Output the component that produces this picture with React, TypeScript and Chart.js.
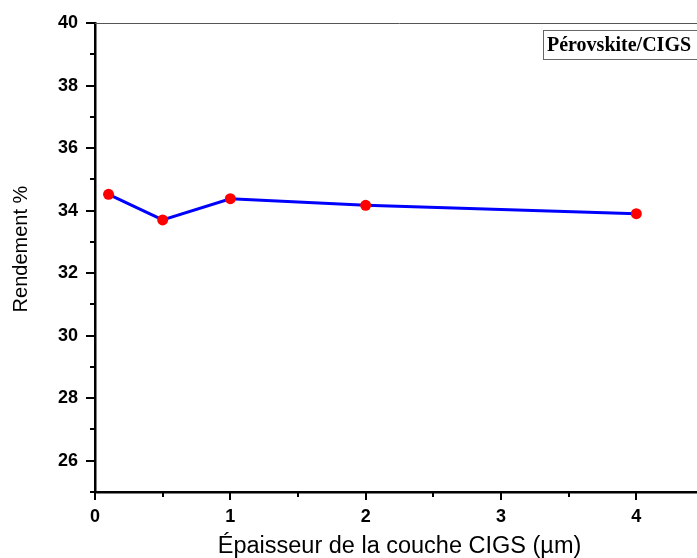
import React, { useEffect, useRef } from "react";
import { Chart, registerables } from "chart.js";

Chart.register(...registerables);

const thickness = [0.1, 0.5, 1, 2, 4];
const rendement = [34.52, 33.7, 34.38, 34.17, 33.9];
const xTickLabels = ["0", "1", "2", "3", "4"];
const yTickLabels = ["26", "28", "30", "32", "34", "36", "38", "40"];
const xTitle = "Épaisseur de la couche CIGS (µm)";
const yTitle = "Rendement %";
const legendText = "Pérovskite/CIGS";

const decorPlugin = {
  id: "decor",
  afterDraw(chart: any) {
    const ctx = chart.ctx;
    const ca = chart.chartArea;
    const xs = chart.scales.x;
    const ys = chart.scales.y;
    ctx.save();
    // top frame line
    ctx.strokeStyle = "#555";
    ctx.lineWidth = 1;
    ctx.beginPath();
    ctx.moveTo(ca.left, ca.top + 0.5);
    ctx.lineTo(ca.right, ca.top + 0.5);
    ctx.stroke();
    // ticks
    ctx.strokeStyle = "#000";
    ctx.lineWidth = 2;
    xs.ticks.forEach((t: any) => {
      const px = Math.round(xs.getPixelForValue(t.value));
      const major = Number.isInteger(t.value);
      ctx.beginPath();
      ctx.moveTo(px, ca.bottom);
      ctx.lineTo(px, ca.bottom + (major ? 8 : 5));
      ctx.stroke();
    });
    ys.ticks.forEach((t: any) => {
      const py = Math.round(ys.getPixelForValue(t.value));
      const major = t.value % 2 === 0;
      ctx.beginPath();
      ctx.moveTo(ca.left, py);
      ctx.lineTo(ca.left - (major ? 9 : 5), py);
      ctx.stroke();
    });
    // titles
    ctx.fillStyle = "#000";
    ctx.font = "23.5px 'Liberation Sans', Arial, sans-serif";
    ctx.textAlign = "center";
    ctx.textBaseline = "alphabetic";
    ctx.fillText(xTitle, (ca.left + ca.right) / 2, ca.bottom + 61);
    ctx.save();
    ctx.translate(27, ca.top + (ca.bottom - ca.top) * 0.482);
    ctx.rotate(-Math.PI / 2);
    ctx.font = "20px 'Liberation Sans', Arial, sans-serif";
    ctx.fillText(yTitle, 0, 0);
    ctx.restore();
    // legend box
    const bx = ca.right - 161;
    const by = ca.top + 7;
    ctx.fillStyle = "#fff";
    ctx.fillRect(bx, by, 160, 29);
    ctx.strokeStyle = "#666";
    ctx.lineWidth = 1;
    ctx.strokeRect(bx + 0.5, by + 0.5, 154, 29);
    ctx.fillStyle = "#000";
    ctx.font = "bold 20px 'Liberation Serif', 'Times New Roman', serif";
    ctx.textAlign = "left";
    ctx.fillText(legendText, bx + 4, by + 21);
    ctx.restore();
  },
};

export default function App() {
  const ref = useRef<HTMLCanvasElement>(null);
  useEffect(() => {
    if (!ref.current) return;
    const chart = new Chart(ref.current, {
      type: "scatter",
      data: {
        datasets: [
          {
            data: thickness.map((x, i) => ({ x, y: rendement[i] })),
            showLine: true,
            borderColor: "#0000FF",
            borderWidth: 3,
            pointRadius: 5.5,
            pointBackgroundColor: "#FF0000",
            pointBorderColor: "#FF0000",
            pointBorderWidth: 0,
          },
        ],
      },
      options: {
        responsive: false,
        animation: false,
        devicePixelRatio: 1,
        layout: { padding: { left: 0, top: 23, right: 16, bottom: 0 } },
        plugins: { legend: { display: false }, tooltip: { enabled: false } },
        scales: {
          x: {
            type: "linear",
            min: 0,
            max: 4.5,
            afterFit: (s: any) => {
              s.height = 66;
              s.paddingLeft = 0;
              s.paddingRight = 0;
            },
            grid: { display: false, drawTicks: false },
            border: { display: true, color: "#000", width: 2.5 },
            ticks: {
              stepSize: 0.5,
              padding: 14,
              color: "#000",
              font: { family: "'Liberation Sans', Arial, sans-serif", size: 18, weight: "bold" },
              callback: (v: any) => {
                const s = String(v);
                return xTickLabels.includes(s) ? s : "";
              },
            },
          },
          y: {
            type: "linear",
            min: 25,
            max: 40,
            afterFit: (s: any) => {
              s.width = 95;
              s.paddingTop = 0;
              s.paddingBottom = 0;
            },
            grid: { display: false, drawTicks: false },
            border: { display: true, color: "#000", width: 2.5 },
            ticks: {
              stepSize: 1,
              padding: 17,
              color: "#000",
              font: { family: "'Liberation Sans', Arial, sans-serif", size: 18, weight: "bold" },
              callback: (v: any) => {
                const s = String(v);
                return yTickLabels.includes(s) ? s : "";
              },
            },
          },
        },
      },
      plugins: [decorPlugin],
    });
    return () => chart.destroy();
  }, []);
  return (
    <div style={{ position: "fixed", left: 0, top: 0, width: 697, height: 558, overflow: "hidden", background: "#fff" }}>
      <canvas ref={ref} width={720} height={558} style={{ display: "block" }} />
    </div>
  );
}
